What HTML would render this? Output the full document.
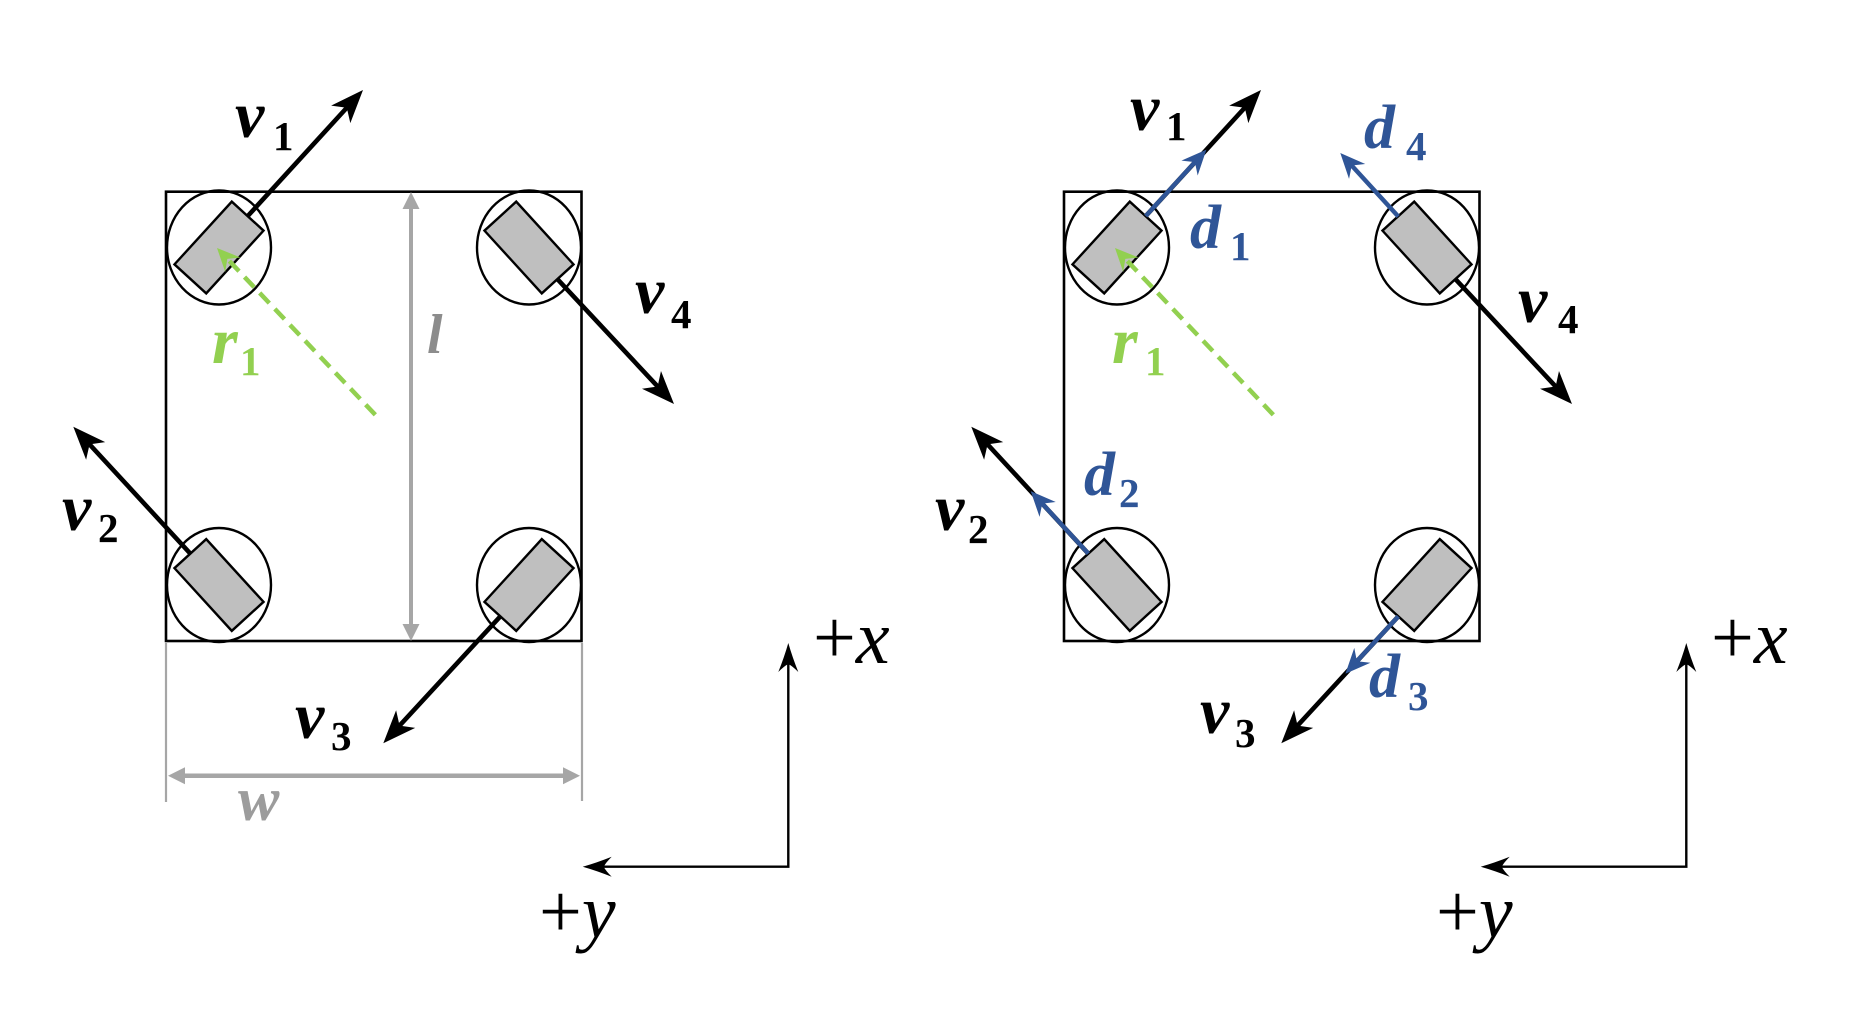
<!DOCTYPE html>
<html>
<head>
<meta charset="utf-8">
<style>
html,body{margin:0;padding:0;background:#fff;}
svg{display:block;}
text{font-family:"Liberation Serif",serif;}
.m{font-style:italic;font-weight:bold;font-size:66px;}
.d{font-style:italic;font-weight:bold;font-size:62px;}
.s{font-weight:bold;font-size:41px;}
.ax{font-size:76px;}
</style>
</head>
<body>
<svg width="1857" height="1021" viewBox="0 0 1857 1021" xmlns="http://www.w3.org/2000/svg" font-family="Liberation Serif, serif">
<rect x="0" y="0" width="1857" height="1021" fill="#fff"/>
<defs>
<g id="base">
  <rect x="166" y="191.7" width="415.5" height="449.3" fill="none" stroke="#000" stroke-width="2.6"/>
  <g stroke="#000" stroke-width="2.4">
    <ellipse cx="219" cy="247.5" rx="52" ry="57" fill="none"/>
    <ellipse cx="219" cy="585" rx="52" ry="57" fill="none"/>
    <ellipse cx="529" cy="585" rx="52" ry="57" fill="none"/>
    <ellipse cx="529" cy="247.5" rx="52" ry="57" fill="none"/>
    <rect x="-42.5" y="-21.5" width="85" height="43" fill="#bfbfbf" transform="translate(219,247.5) rotate(-47.6)"/>
    <rect x="-42.5" y="-21.5" width="85" height="43" fill="#bfbfbf" transform="translate(219,585) rotate(47.6)"/>
    <rect x="-42.5" y="-21.5" width="85" height="43" fill="#bfbfbf" transform="translate(529,585) rotate(-47.6)"/>
    <rect x="-42.5" y="-21.5" width="85" height="43" fill="#bfbfbf" transform="translate(529,247.5) rotate(47.6)"/>
  </g>
  <g fill="#000" stroke="none">
    <g transform="translate(363,90) rotate(-47.56)">
      <line x1="-170.9" y1="0" x2="-20" y2="0" stroke="#000" stroke-width="4.6"/>
      <path d="M0,0 L-33,-13 L-24,0 L-33,13Z"/>
    </g>
    <g transform="translate(73.3,426.7) rotate(-132.67)">
      <line x1="-172.6" y1="0" x2="-20" y2="0" stroke="#000" stroke-width="4.6"/>
      <path d="M0,0 L-33,-13 L-24,0 L-33,13Z"/>
    </g>
    <g transform="translate(383.3,743.3) rotate(132.67)">
      <line x1="-172.6" y1="0" x2="-20" y2="0" stroke="#000" stroke-width="4.6"/>
      <path d="M0,0 L-33,-13 L-24,0 L-33,13Z"/>
    </g>
    <g transform="translate(674,404) rotate(46.97)">
      <line x1="-170.4" y1="0" x2="-20" y2="0" stroke="#000" stroke-width="4.6"/>
      <path d="M0,0 L-33,-13 L-24,0 L-33,13Z"/>
    </g>
  </g>
  <g transform="translate(217,248) rotate(-133.5)" fill="#92d050">
    <line x1="-230" y1="0" x2="-12" y2="0" stroke="#92d050" stroke-width="4.5" stroke-dasharray="14 8"/>
    <path d="M0,0 L-23,-10.5 L-15,0 L-23,10.5Z"/>
  </g>
  <g>
    <path d="M788.3,664 L788.3,866.7 L603,866.7" fill="none" stroke="#000" stroke-width="2.4" stroke-linejoin="miter"/>
    <g transform="translate(788.3,643) rotate(-90)">
      <path d="M0,0 Q-14,-4 -29,-10 Q-23,-4 -21,0 Q-23,4 -29,10 Q-14,4 0,0Z" fill="#000"/>
    </g>
    <g transform="translate(582.7,866.7) rotate(180)">
      <path d="M0,0 Q-14,-4 -29,-10 Q-23,-4 -21,0 Q-23,4 -29,10 Q-14,4 0,0Z" fill="#000"/>
    </g>
  </g>
</g>
</defs>

<use href="#base"/>
<g fill="#a6a6a6">
  <line x1="411" y1="205" x2="411" y2="628" stroke="#a6a6a6" stroke-width="4"/>
  <path d="M411,192 L402.5,209 L419.5,209Z"/>
  <path d="M411,641 L402.5,624 L419.5,624Z"/>
</g>
<g fill="#a6a6a6">
  <line x1="166" y1="643" x2="166" y2="802" stroke="#a6a6a6" stroke-width="2.2"/>
  <line x1="582" y1="643" x2="582" y2="801" stroke="#a6a6a6" stroke-width="2.2"/>
  <line x1="180" y1="775.7" x2="568" y2="775.7" stroke="#a6a6a6" stroke-width="4.5"/>
  <path d="M168,775.7 L185,767.2 L185,784.2Z"/>
  <path d="M580,775.7 L563,767.2 L563,784.2Z"/>
</g>

<text class="m" x="235" y="137">v</text><text class="s" x="273" y="150">1</text>
<text class="m" x="635" y="313">v</text><text class="s" x="671" y="328">4</text>
<text class="m" x="212" y="363" fill="#92d050">r</text><text class="s" x="240" y="375" fill="#92d050">1</text>
<text class="m" x="62" y="530">v</text><text class="s" x="98" y="542">2</text>
<text class="m" x="295" y="738">v</text><text class="s" x="331" y="750">3</text>
<text x="427" y="353" style="font-style:italic;font-weight:bold;font-size:56px;" fill="#8c8c8c">l</text>
<text x="238" y="820" style="font-style:italic;font-weight:bold;font-size:62px;" fill="#9c9c9c">w</text>
<text class="ax" x="813" y="663">+<tspan font-style="italic">x</tspan></text>
<text class="ax" x="539" y="937">+<tspan font-style="italic">y</tspan></text>

<use href="#base" transform="translate(898,0)"/>
<g transform="translate(898,0)" fill="#2f5597">
  <g transform="translate(308.4,149.6) rotate(-47.6)">
    <line x1="-90" y1="0" x2="-14" y2="0" stroke="#2f5597" stroke-width="4.4"/>
    <path d="M0,0 L-25,-11 L-17,0 L-25,11Z"/>
  </g>
  <g transform="translate(132.7,491.1) rotate(-132.7)">
    <line x1="-85" y1="0" x2="-14" y2="0" stroke="#2f5597" stroke-width="4.4"/>
    <path d="M0,0 L-25,-11 L-17,0 L-25,11Z"/>
  </g>
  <g transform="translate(447.4,673.7) rotate(132.7)">
    <line x1="-78" y1="0" x2="-14" y2="0" stroke="#2f5597" stroke-width="4.4"/>
    <path d="M0,0 L-25,-11 L-17,0 L-25,11Z"/>
  </g>
  <g transform="translate(442.3,153) rotate(-132.4)">
    <line x1="-86" y1="0" x2="-14" y2="0" stroke="#2f5597" stroke-width="4.4"/>
    <path d="M0,0 L-25,-11 L-17,0 L-25,11Z"/>
  </g>
</g>

<text class="m" x="1130" y="130">v</text><text class="s" x="1166" y="140">1</text>
<text class="d" x="1190" y="248" fill="#2f5597">d</text><text class="s" x="1230" y="260" fill="#2f5597">1</text>
<text class="d" x="1364" y="148" fill="#2f5597">d</text><text class="s" x="1406" y="160" fill="#2f5597">4</text>
<text class="m" x="1518" y="322">v</text><text class="s" x="1558" y="333">4</text>
<text class="m" x="1112" y="363" fill="#92d050">r</text><text class="s" x="1145" y="375" fill="#92d050">1</text>
<text class="d" x="1084" y="495" fill="#2f5597">d</text><text class="s" x="1119" y="507" fill="#2f5597">2</text>
<text class="m" x="935" y="530">v</text><text class="s" x="968" y="543">2</text>
<text class="m" x="1200" y="733">v</text><text class="s" x="1235" y="747">3</text>
<text class="d" x="1369" y="697" fill="#2f5597">d</text><text class="s" x="1408" y="710" fill="#2f5597">3</text>
<text class="ax" x="1711" y="663">+<tspan font-style="italic">x</tspan></text>
<text class="ax" x="1436" y="937">+<tspan font-style="italic">y</tspan></text>
</svg>
</body>
</html>
